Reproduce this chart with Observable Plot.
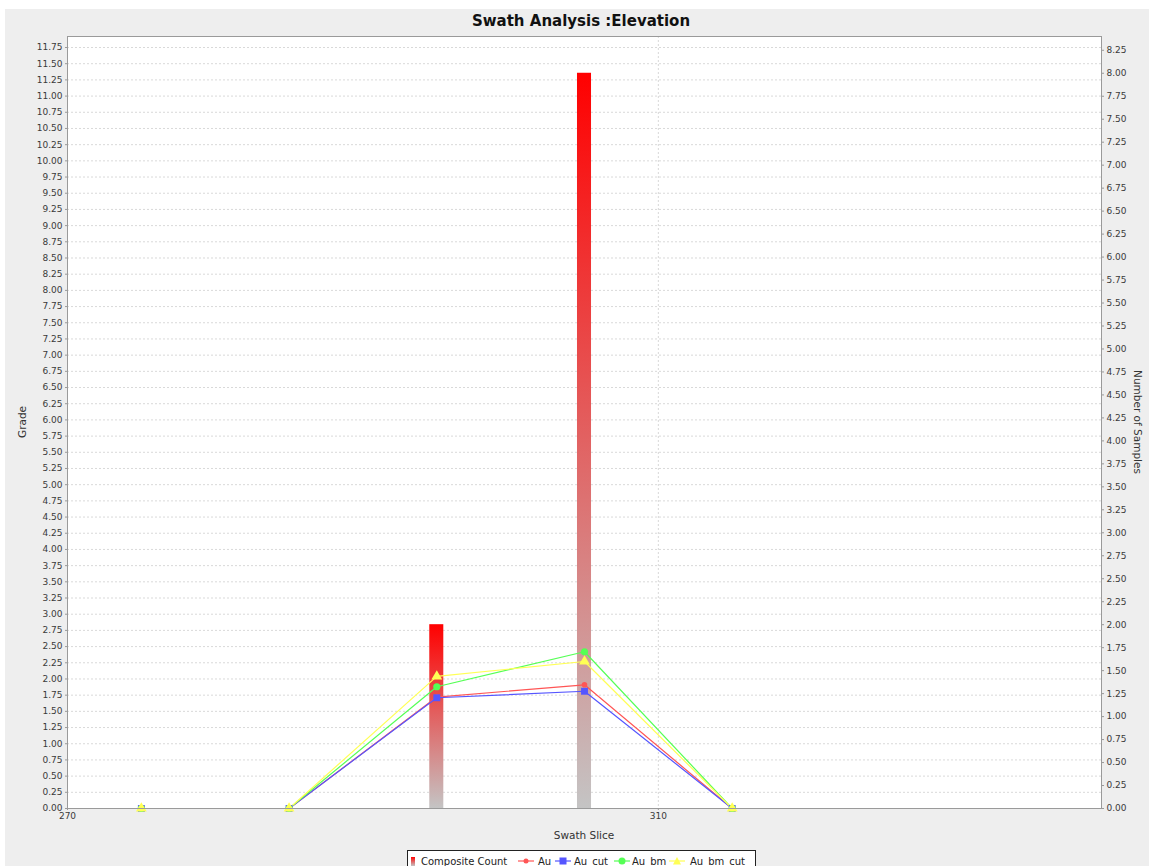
<!DOCTYPE html>
<html>
<head>
<meta charset="utf-8">
<script src="https://cdn.jsdelivr.net/npm/d3@7"></script>
<script src="https://cdn.jsdelivr.net/npm/@observablehq/plot@0.6"></script>
<style>
  html, body { margin:0; padding:0; }
  body { width:1149px; height:866px; overflow:hidden; position:relative; background:#ffffff; font-family:"DejaVu Sans", sans-serif; }
  #panel { position:absolute; left:5px; top:9px; width:1144px; height:857px; background:#eeeeee; }
  #chart { position:absolute; left:0; top:0; }
  .lbl { position:absolute; color:#333; font-size:10.5px; white-space:nowrap; line-height:12px; }
  #title { position:absolute; left:581px; top:12px; transform:translateX(-50%); font-weight:bold; font-size:15px; color:#111; white-space:nowrap; line-height:18px; }
  #legend { position:absolute; left:407px; top:850px; width:347px; height:20px; border:1px solid #222; background:#fff; font-size:10px; color:#222; }
  #legend .ic { position:absolute; top:5px; display:block; }
  #legend .tx { position:absolute; top:4.5px; white-space:nowrap; line-height:12px; }
</style>
</head>
<body>
<div id="panel"></div>
<div id="title">Swath Analysis :Elevation</div>
<div id="chart"></div>
<div class="lbl" id="xlabel" style="left:584px; top:829px; transform:translateX(-50%);">Swath Slice</div>
<div class="lbl" id="ylabel" style="left:22px; top:422px; transform:translate(-50%,-50%) rotate(-90deg);">Grade</div>
<div class="lbl" id="y2label" style="left:1138px; top:422px; transform:translate(-50%,-50%) rotate(90deg);">Number of Samples</div>
<div id="legend"></div>
<script>
// ---- data ----
const slices = [275, 285, 295, 305, 315];
const compositeCount = [0, 0, 2, 8, 0];
const au = [0, 0, 1.72, 1.91, 0];
const auCut = [0, 0, 1.71, 1.81, 0];
const auBm = [0, 0, 1.88, 2.42, 0];
const auBmCut = [0, 0, 2.04, 2.27, 0];
const seriesNames = ["Au", "Au_cut", "Au_bm", "Au_bm_cut"];
const seriesColors = ["#ff5555", "#5555ff", "#55ff55", "#ffff55"];
const xTicks = [270, 310];
const leftTicks = d3.range(0, 47 + 1).map(i => i * 0.25);   // 0.00 .. 11.75
const rightTicks = d3.range(0, 33 + 1).map(i => i * 0.25);  // 0.00 .. 8.25
const leftMax = 11.92, rightMax = 8.40;
const k = leftMax / rightMax; // maps right-axis values onto left scale

// tables
const bars = slices.map((s, i) => ({slice: s, count: compositeCount[i]})).filter(d => d.count > 0);
const seriesVals = [au, auCut, auBm, auBmCut];
const lineData = [];
seriesNames.forEach((n, j) => slices.forEach((s, i) => lineData.push({series: n, slice: s, v: seriesVals[j][i]})));
const byName = n => lineData.filter(d => d.series === n);

const halfW = 0.475;
const gridStyle = {stroke: "#d9d9d9", strokeOpacity: 1, strokeDasharray: "2,2"};

const chart = Plot.plot({
  width: 1149,
  height: 866,
  marginLeft: 67,
  marginRight: 48,
  marginTop: 36,
  marginBottom: 58,
  style: {fontFamily: "DejaVu Sans, sans-serif", fontSize: "9px", background: "transparent", color: "#444"},
  x: {domain: [270, 340], label: null},
  y: {domain: [0, leftMax], label: null},
  marks: [
    Plot.frame({fill: "white", stroke: "none"}),
    Plot.gridY(leftTicks, gridStyle),
    Plot.gridX(xTicks, gridStyle),
    Plot.axisY({anchor: "left", ticks: leftTicks, tickFormat: d => d.toFixed(2), tickSize: 2, tickPadding: 3, stroke: "#999", fill: "#3a3a3a", label: null}),
    Plot.axisY({anchor: "right", ticks: rightTicks.map(v => v * k), tickFormat: d => (d / k).toFixed(2), tickSize: 2, tickPadding: 3, stroke: "#999", fill: "#3a3a3a", label: null}),
    Plot.axisX({ticks: xTicks, tickFormat: d => String(d), tickSize: 2, tickPadding: 2, stroke: "#999", fill: "#3a3a3a", label: null}),
    Plot.rect(bars, {x1: d => d.slice - halfW, x2: d => d.slice + halfW, y1: 0, y2: d => d.count * k, fill: "url(#barGrad)"}),
    Plot.line(byName("Au"), {x: "slice", y: "v", stroke: seriesColors[0], strokeWidth: 1.2}),
    Plot.line(byName("Au_cut"), {x: "slice", y: "v", stroke: seriesColors[1], strokeWidth: 1.2}),
    Plot.line(byName("Au_bm"), {x: "slice", y: "v", stroke: seriesColors[2], strokeWidth: 1.2}),
    Plot.line(byName("Au_bm_cut"), {x: "slice", y: "v", stroke: seriesColors[3], strokeWidth: 1.2}),
    Plot.dot(byName("Au"), {x: "slice", y: "v", fill: seriesColors[0], r: 2.8, symbol: "circle"}),
    Plot.dot(byName("Au_cut"), {x: "slice", y: "v", fill: seriesColors[1], r: 3.9, symbol: "square"}),
    Plot.dot(byName("Au_bm"), {x: "slice", y: "v", fill: seriesColors[2], r: 3.6, symbol: "circle"}),
    Plot.dot(byName("Au_bm_cut"), {x: "slice", y: "v", fill: seriesColors[3], r: 4.0, symbol: "triangle"}),
    Plot.frame({stroke: "#9a9a9a", strokeWidth: 1})
  ]
});

// gradient definition for the bars
const NS = "http://www.w3.org/2000/svg";
const defs = document.createElementNS(NS, "defs");
const grad = document.createElementNS(NS, "linearGradient");
grad.setAttribute("id", "barGrad");
grad.setAttribute("x1", "0"); grad.setAttribute("y1", "0");
grad.setAttribute("x2", "0"); grad.setAttribute("y2", "1");
[["0%", "#ff0000"], ["100%", "#c4c4c4"]].forEach(([o, c]) => {
  const st = document.createElementNS(NS, "stop");
  st.setAttribute("offset", o); st.setAttribute("stop-color", c);
  grad.appendChild(st);
});
defs.appendChild(grad);
chart.insertBefore(defs, chart.firstChild);
document.getElementById("chart").appendChild(chart);

// legend (positions relative to legend box)
const legend = document.getElementById("legend");
function addItem(iconSvg, iconX, text, textX) {
  legend.insertAdjacentHTML("beforeend",
    `<div class="ic" style="left:${iconX}px">${iconSvg}</div><span class="tx" style="left:${textX}px">${text}</span>`);
}
addItem(`<svg width="6" height="10"><defs><linearGradient id="lgG" x1="0" y1="0" x2="0" y2="1"><stop offset="0" stop-color="#ff0000"/><stop offset="1" stop-color="#c4c4c4"/></linearGradient></defs><rect x="1" y="1" width="4" height="9" fill="url(#lgG)"/></svg>`, 2, "Composite Count", 13);
const markerSvg = [
  c => `<circle cx="8" cy="5" r="2.5" fill="${c}"/>`,
  c => `<rect x="4.5" y="1.5" width="7" height="7" fill="${c}"/>`,
  c => `<circle cx="8" cy="5" r="3.5" fill="${c}"/>`,
  c => `<path d="M8,1 L12,8.5 L4,8.5 Z" fill="${c}"/>`
];
const iconXs = [110, 147, 206, 261];
const textXs = [130, 166, 224, 282];
seriesNames.forEach((n, j) => {
  addItem(`<svg width="16" height="10"><line x1="0" y1="5" x2="16" y2="5" stroke="${seriesColors[j]}" stroke-width="1.2"/>${markerSvg[j](seriesColors[j])}</svg>`, iconXs[j], n, textXs[j]);
});
</script>
</body>
</html>
